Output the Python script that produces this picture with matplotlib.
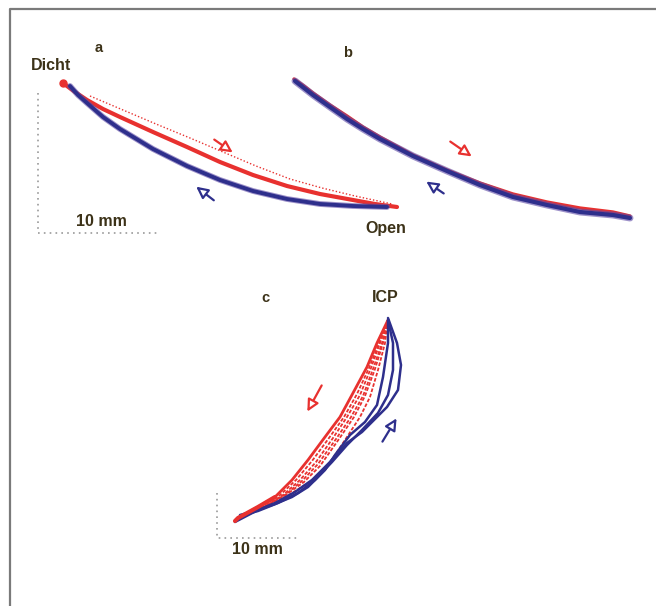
import numpy as np
import matplotlib
matplotlib.use('Agg')
import matplotlib.pyplot as plt

# traces, in pixel coords of the 656x606 page
a_red = [(63, 83), (75, 92), (87, 100), (103, 109), (120, 117), (153, 132),
         (187, 147), (220, 162), (253, 175), (287, 186), (320, 194), (353, 200),
         (375, 204), (397, 207)]
a_red_dot = [(90, 96), (123, 110), (156, 124), (190, 138), (223, 152),
             (256, 166), (290, 179), (322, 188), (355, 196), (392, 204)]
a_blue = [(70, 86), (78, 95), (87, 103), (103, 117), (120, 129), (153, 149),
          (187, 166), (220, 180), (253, 191), (287, 199), (320, 204), (353, 206),
          (387, 207)]

b_blue = [(295, 81), (304, 88), (313, 95), (330, 107), (347, 119), (363, 129),
          (380, 139), (413, 156), (447, 171), (480, 185), (513, 197), (547, 205),
          (580, 212), (613, 215), (630, 218)]
b_red = [(294, 79), (304, 86), (313, 93), (330, 105), (347, 116), (363, 127),
         (380, 137), (413, 155), (447, 170), (480, 183), (513, 194), (547, 202),
         (580, 208), (613, 212), (630, 216)]

c_red = [
    [(388, 320), (377, 343), (367, 367), (353, 393), (340, 417), (325, 437),
     (308, 460), (292, 480), (275, 497), (258, 507), (238, 518), (235, 521)],
    [(388, 320), (379, 343), (369, 368), (357, 394), (344, 417), (329, 438),
     (312, 461), (296, 480), (279, 496), (261, 507), (242, 517), (235, 521)],
    [(388, 320), (380, 343), (371, 368), (360, 395), (347, 417), (333, 438),
     (316, 462), (300, 480), (283, 495), (264, 507), (245, 516), (236, 520)],
    [(388, 320), (382, 343), (373, 369), (363, 396), (351, 417), (336, 439),
     (318, 464), (302, 481), (285, 495), (266, 506), (247, 515), (236, 520)],
    [(388, 320), (383, 343), (375, 369), (365, 396), (354, 417), (339, 439),
     (320, 466), (304, 482), (287, 494), (268, 505), (248, 514), (236, 520)],
    [(388, 320), (385, 343), (378, 370), (370, 397), (360, 417), (345, 440),
     (325, 470), (308, 483), (292, 493), (275, 503), (258, 510), (238, 518)],
]
c_blue = [
    [(388, 318), (397, 343), (401, 365), (398, 390), (387, 407), (377, 417),
     (362, 432), (347, 443), (330, 462), (312, 480), (295, 492), (275, 503),
     (255, 511), (240, 515)],
    [(388, 320), (393, 343), (393, 370), (388, 395), (378, 413), (362, 430),
     (347, 445), (332, 462), (315, 480), (298, 493), (278, 503), (258, 511),
     (240, 516)],
    [(388, 320), (388, 343), (383, 377), (377, 405), (365, 422), (350, 435),
     (335, 455), (325, 470), (308, 487), (292, 497), (275, 504), (258, 510),
     (235, 522)],
]

# arrows: (tail, head)
arrows_red = [((212, 138), (235, 154)), ((448, 140), (474, 158)),
              ((323, 383), (306, 414))]
arrows_blue = [((216, 202), (194, 185)), ((446, 195), (424, 180)),
               ((381, 444), (398, 416))]

labels = [("Dicht", 51, 66), ("a", 99, 48), ("Open", 386, 228), ("10 mm", 101, 221),
          ("b", 348, 53), ("c", 265, 298), ("ICP", 385, 298), ("10 mm", 257, 549)]

RED = '#e8312f'
BLUE = '#2e2f8c'
PURPLE = '#5e4aa6'
TXT = '#3c3218'

fig = plt.figure(figsize=(6.56, 6.06), dpi=100)
ax = fig.add_axes([0, 0, 1, 1])
ax.set_xlim(0, 656)
ax.set_ylim(606, 0)
ax.axis('off')

# page frame (top and left only)
ax.plot([10, 10, 656], [606, 9, 9], color='#7a7a7a', lw=1.6)


def trace(pts, **kw):
    p = np.array(pts)
    ax.plot(p[:, 0], p[:, 1], solid_capstyle='round', solid_joinstyle='round', **kw)


# panel a
trace(a_red_dot, color=RED, lw=1.0, ls=(0, (1, 1.5)))
trace(a_red, color=RED, lw=3.0)
trace(a_blue, color=PURPLE, lw=4.2, alpha=0.6)
trace(a_blue, color=BLUE, lw=2.8)
ax.plot(63, 83, 'o', color=RED, ms=5)

# panel b
trace(b_red, color=RED, lw=2.4)
trace(b_blue, color=PURPLE, lw=5.0, alpha=0.6)
trace(b_blue, color=BLUE, lw=3.0)

# panel c
for c in c_red[1:]:
    trace(c, color=RED, lw=1.3, ls=(0, (2, 1)))
trace(c_red[0], color=RED, lw=2.0)
for c in c_blue:
    trace(c, color=BLUE, lw=1.8)
trace(c_red[0][-4:], color=RED, lw=3.0)

for (t, h), col in [(a, RED) for a in arrows_red] + [(a, BLUE) for a in arrows_blue]:
    ax.annotate('', xy=h, xytext=t,
                arrowprops=dict(arrowstyle='-|>,head_length=0.7,head_width=0.35',
                                color=col, lw=1.6, fc='white'))

# scale bars
ax.plot([38, 38, 158], [93, 233, 233], color='#9a9a9a', lw=1.2, ls=(0, (1, 2.5)))
ax.plot([217, 217, 297], [493, 538, 538], color='#9a9a9a', lw=1.2, ls=(0, (1, 2.5)))

for s, x, y in labels:
    ax.text(x, y, s, ha='center', va='center', fontsize=11.5 if len(s) > 1 else 10.5,
            fontweight='bold', color=TXT, family=['Liberation Sans', 'DejaVu Sans'])

fig.savefig('out.png', dpi=100, facecolor='white')
